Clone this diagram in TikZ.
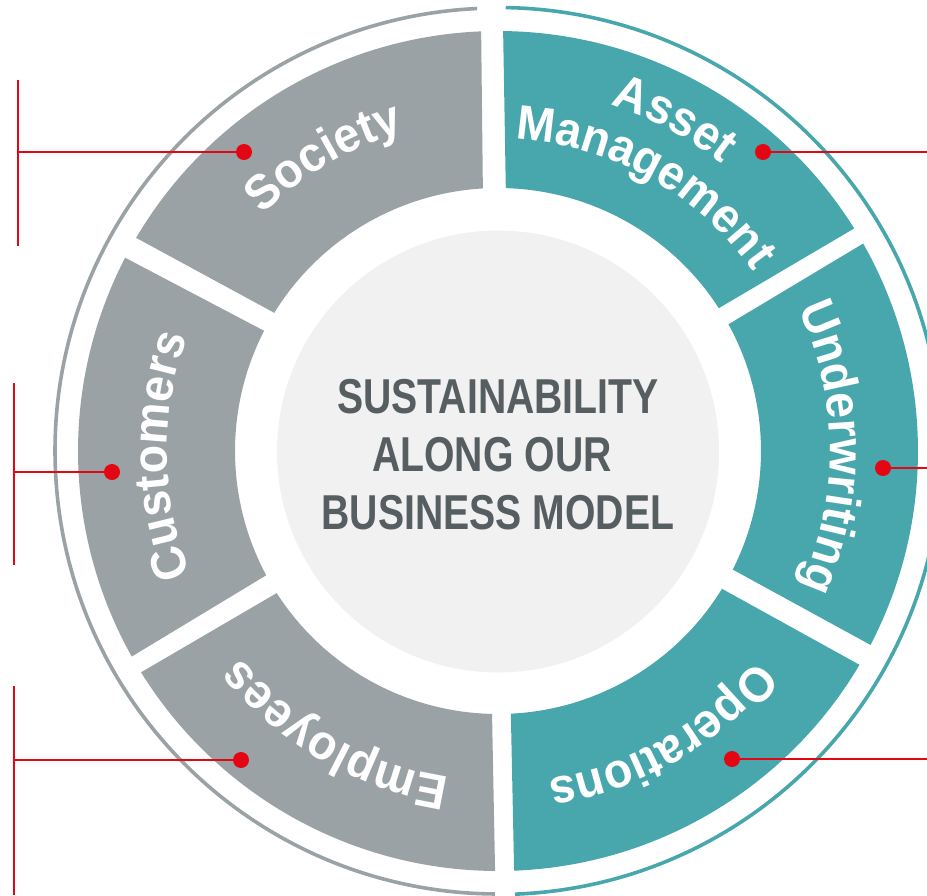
\documentclass[tikz,border=0pt]{standalone}
\usepackage{fontspec}
\setmainfont{Liberation Sans}
\newfontfamily\labfont[FakeStretch=.95]{Liberation Sans}
\usetikzlibrary{calc,decorations.text}
\definecolor{tealseg}{HTML}{48A7AC}
\definecolor{grayseg}{HTML}{9BA2A5}
\definecolor{corefill}{HTML}{F1F1F1}
\definecolor{coretext}{HTML}{575E62}
\definecolor{redline}{HTML}{E30613}
\tikzset{
  x=1pt,y=1pt,
  ringline/.style={line width=3.6pt},
  dotnode/.style={circle,fill=redline,inner sep=0pt,minimum size=16pt},
  leader/.style={draw=redline,line width=2.2pt},
  bracket/.style={draw=redline,line width=1.2pt},
}
\newcommand{\segm}[5]{\fill[#5] ($(c)+(#1:420pt)$) arc[start angle=#1,end angle=#2,radius=420pt] -- ($(c)+(#4:263pt)$) arc[start angle=#4,end angle=#3,radius=263pt] -- cycle;}
\newcommand{\arclabel}[4]{%
  \pgfmathsetmacro{\startA}{#1+75}\pgfmathsetmacro{\endA}{#1-75}%
  \path[postaction={decorate,decoration={text along path,text align=center,
     text={|\labfont\fontsize{#3}{#3}\selectfont\bfseries\color{white}|#4}}}]
    ($(c)+(\startA:#2pt)$) arc[start angle=\startA,end angle=\endA,radius=#2pt];}
\begin{document}
\begin{tikzpicture}
\clip (0,0) rectangle (927,-895);
\useasboundingbox (0,0) rectangle (927,-895);
\coordinate (c) at (498,-451);
% outer rings
\draw[ringline,grayseg] ($(c)+(92.7:443pt)$) arc[start angle=92.7,end angle=269.6,radius=443pt];
\draw[ringline,tealseg] ($(c)+(89:443.5pt)$) arc[start angle=89,end angle=-87.8,radius=443.5pt];
% segments
\segm{89.3}{32}{88.3}{32.9}{tealseg}
\segm{29.6}{-27.5}{28.8}{-26.8}{tealseg}
\segm{-30.6}{-87.8}{-31.6}{-87.2}{tealseg}
\segm{-90.4}{-148.2}{-91.3}{-147.3}{grayseg}
\segm{-150.7}{-207.4}{-151.8}{-207.2}{grayseg}
\segm{149.5}{92.3}{148.3}{93.3}{grayseg}
% centre
\node[circle,fill=corefill,minimum size=442pt,inner sep=0pt] (core) at (498,-451.5) {};
\node[xscale=.8,transform shape,align=center,text=coretext,font=\fontsize{49}{58}\selectfont\bfseries] (title) at (498,-455) {SUSTAINABILITY\\ALONG OUR\rule{15pt}{0pt}\\BUSINESS MODEL};
% labels
\arclabel{120.6}{333}{49}{Society}
\arclabel{180.8}{331}{49}{Customers}
\arclabel{-119.8}{330}{49}{Employees}
\arclabel{-60.2}{332}{49}{Operations}
\arclabel{0.6}{332}{49}{Underwriting}
\arclabel{62}{364}{49}{Asset}
\arclabel{61}{312}{48.5}{Management}
% leaders
\node[dotnode] (d1) at (244,-152) {};
\node[dotnode] (d2) at (112,-472) {};
\node[dotnode] (d3) at (241,-760) {};
\node[dotnode] (d4) at (763,-152) {};
\node[dotnode] (d5) at (883,-468) {};
\node[dotnode] (d6) at (732,-759) {};
\coordinate (j1) at (18,-152);
\coordinate (j2) at (14,-472);
\coordinate (j3) at (14,-760);
\coordinate (e4) at (927,-152);
\coordinate (e5) at (927,-468);
\coordinate (e6) at (927,-759);
\coordinate (t1) at (18,-80);  \coordinate (b1) at (18,-246);
\coordinate (t2) at (14,-383); \coordinate (b2) at (14,-565);
\coordinate (t3) at (14,-686); \coordinate (b3) at (14,-895);
\draw[leader] (d1) -- (j1);
\draw[leader] (d2) -- (j2);
\draw[leader] (d3) -- (j3);
\draw[leader] (d4) -- (e4);
\draw[leader] (d5) -- (e5);
\draw[leader] (d6) -- (e6);
\draw[bracket] (t1) -- (b1);
\draw[bracket] (t2) -- (b2);
\draw[bracket] (t3) -- (b3);
\end{tikzpicture}
\end{document}
